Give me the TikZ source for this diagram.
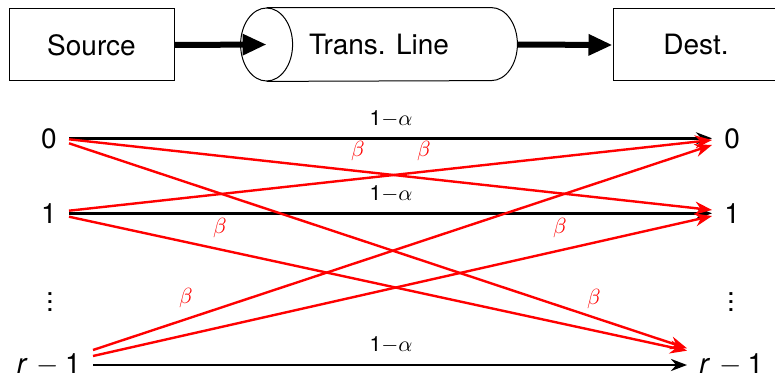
\documentclass[tikz,border=0pt]{standalone}
\usepackage{fontspec}
\setmainfont{TeX Gyre Heros}
\usetikzlibrary{arrows.meta,calc}

\begin{document}
\begin{tikzpicture}[x=0.5pt,y=-0.5pt,
  box/.style={draw,line width=0.5pt,minimum width=82.5pt,minimum height=36pt,
    inner sep=0pt,font=\fontsize{14}{16}\selectfont},
  bigarrow/.style={line width=3pt,-{Triangle[length=12pt,width=10pt]}},
  state/.style={font=\fontsize{14}{16}\selectfont,inner xsep=6pt,inner ysep=0pt},
  pass/.style={line width=1.4pt,-{Stealth[length=8pt,width=6pt]}},
  flip/.style={red,line width=1.2pt,-{Stealth[length=8.5pt,width=6.5pt]}},
  prob/.style={font=\fontsize{10.5}{12}\selectfont,inner sep=0pt},
  flipprob/.style={prob,text=red}]

\useasboundingbox (0,0) rectangle (775,374);

% --- source, transmission line, destination ---
\node[box] (src) at (91.5,45) {Source};
\node[minimum width=112pt,minimum height=36.5pt,inner sep=0pt,
      font=\fontsize{14}{16}\selectfont] (cyl) at (379,44.5) {Trans. Line};
\draw[line width=0.5pt] (cyl.north west) -- (cyl.north east)
  arc[start angle=90,end angle=-90,x radius=13pt,y radius=18.25pt]
  -- (cyl.south west);
\draw[line width=0.5pt] (cyl.west) ellipse[x radius=13pt,y radius=18.25pt];
\node[box,minimum width=83pt] (dst) at (696,45) {Dest.};

\draw[bigarrow] (src.east) -- (cyl.west);
\draw[bigarrow] ($(cyl.east)+(26,0)$) -- (dst.west);

% --- channel states ---
\node[state,anchor=east] (l0) at (69,138.3) {0};
\node[state,anchor=east] (l1) at (69,213.3) {1};
\node[state] (ld) at (50,296) {$\vdots$};
\node[state,anchor=east] (lr) at (93,365) {\textit{r}\hspace{4.5pt}$-$\hspace{3pt}1};

\node[state,anchor=west] (r0) at (712,138.3) {0};
\node[state,anchor=west] (r1) at (712,213.3) {1};
\node[state] (rd) at (731,296) {$\vdots$};
\node[state,anchor=west] (rr) at (687,365) {\textit{r}\hspace{4.5pt}$-$\hspace{3pt}1};

% correct transmissions
\draw[pass] (l0.east) -- (r0.west);
\draw[pass] (l1.east) -- (r1.west);
\draw[pass] (lr.east) -- (rr.west);

% symbol errors
\draw[flip] ($(l0.east)+(0,1)$)    -- ($(r1.west)+(0,-3.3)$);
\draw[flip] ($(l0.east)+(0,5)$)    -- ($(rr.west)+(0,-16.7)$);
\draw[flip] ($(l1.east)+(0,-2.6)$) -- ($(r0.west)+(0,1.7)$);
\draw[flip] ($(l1.east)+(0,3.4)$)  -- ($(rr.west)+(0,-14.3)$);
\draw[flip] ($(lr.east)+(0,-15)$)  -- ($(r0.west)+(0,6.7)$);
\draw[flip] ($(lr.east)+(0,-9)$)   -- ($(r1.west)+(0,2.7)$);

% transition probabilities
\node[prob] (p0) at (391,119) {1$-\alpha$};
\node[prob] (p1) at (391,194) {1$-\alpha$};
\node[prob] (p2) at (391,345) {1$-\alpha$};
\node[flipprob] (q1) at (358,151) {$\beta$};
\node[flipprob] (q2) at (424,151) {$\beta$};
\node[flipprob] (q3) at (220,228) {$\beta$};
\node[flipprob] (q4) at (560,228) {$\beta$};
\node[flipprob] (q5) at (186,298) {$\beta$};
\node[flipprob] (q6) at (594,299) {$\beta$};
\end{tikzpicture}
\end{document}
